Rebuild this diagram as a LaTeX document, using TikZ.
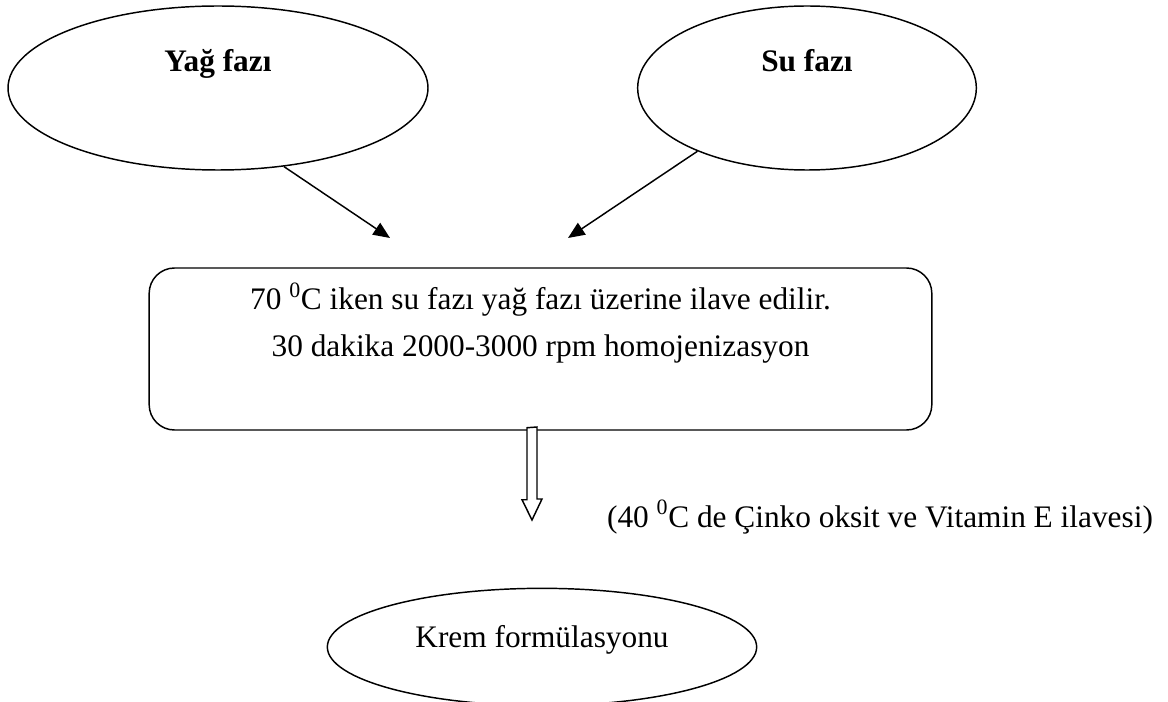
\documentclass[tikz,border=0pt]{standalone}
\usepackage{fontspec}
\setmainfont{Liberation Serif}
\usetikzlibrary{arrows.meta, shapes.geometric, positioning}

\begin{document}
\begin{tikzpicture}[x=0.75pt,y=-0.75pt,line width=1.1pt,
    every node/.style={font=\fontsize{23.5}{28}\selectfont},
    phase/.style={draw,ellipse,inner sep=0pt,text height=0pt,text depth=24pt,
      minimum height=123pt,font=\fontsize{23.5}{28}\selectfont\bfseries},
    product/.style={draw,ellipse,inner sep=0pt,text height=0pt,text depth=0pt,
      minimum width=322pt,minimum height=88pt},
    procbox/.style={draw,rounded corners=19pt,minimum width=587pt,minimum height=121.5pt},
    feed/.style={-{Triangle[length=12.5pt,width=10.5pt]}},
    hollow/.style={draw,fill=white}]
  \useasboundingbox (0,0) rectangle (1168,702);

  % phases
  \node[phase,minimum width=315pt] (yag) at (218,88) {Yağ fazı};
  \node[phase,minimum width=254pt] (su)  at (807,88) {Su fazı};

  % mixing step
  \node[procbox] (mix) at (540.5,349) {};
  \node[anchor=base] (mixa) at ([yshift=-31.5pt]mix.north)
    {70 \textsuperscript{0}C iken su fazı yağ fazı üzerine ilave edilir.};
  \node[anchor=base] (mixb) at ([yshift=-66.75pt]mix.north)
    {30 dakika 2000-3000 rpm homojenizasyon};

  \coordinate (yagtip) at (390,238);
  \coordinate (sutip)  at (568,238);
  \draw[feed] (yag.-50)  -- (yagtip);
  \draw[feed] (su.-150)  -- (sutip);

  % cooling + product
  \coordinate (down) at (532,520);
  \draw[hollow] (mix.south -| down) ++(-5,-3) -- ++(0,72) -- ++(-5,0) -- (down)
    -- ++(10,-21) -- ++(-5,0) -- ++(0,-72) -- cycle;
  \node[anchor=base] (zinc) at (880,527)
    {(40 \textsuperscript{0}C de Çinko oksit ve Vitamin E ilavesi)};

  \node[product] (krem) at (542,647) {Krem formülasyonu};
\end{tikzpicture}
\end{document}
